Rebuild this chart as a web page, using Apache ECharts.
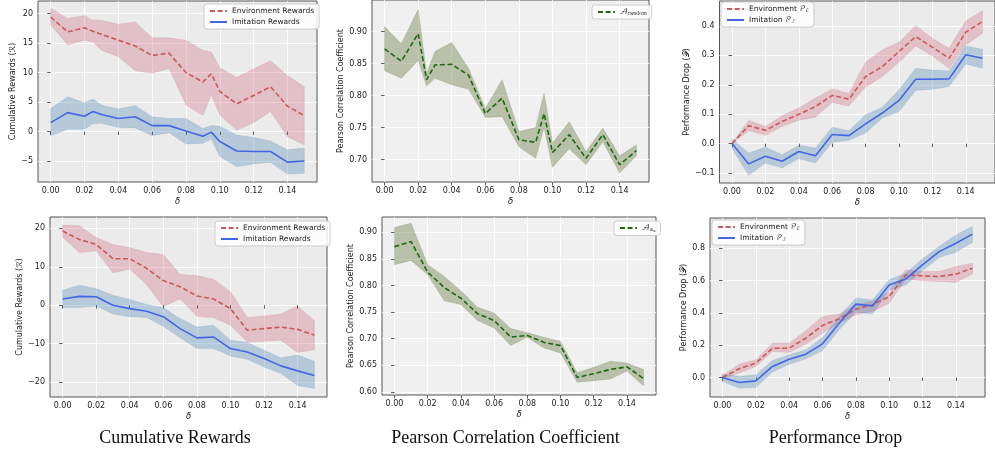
<!DOCTYPE html>
<html><head><meta charset="utf-8">
<script src="https://cdn.jsdelivr.net/npm/echarts@6/dist/echarts.min.js"></script>
<style>html,body{margin:0;padding:0;background:#fff}#c{width:995px;height:450px}</style>
</head><body><div id="c"></div>
<script>
// ---------------- data ----------------
const xsA = [0, 0.01, 0.02, 0.025, 0.03, 0.04, 0.05, 0.06, 0.07, 0.08, 0.09, 0.095, 0.10, 0.11, 0.12, 0.13, 0.14, 0.15];
const xsB = [0, 0.01, 0.02, 0.03, 0.04, 0.05, 0.06, 0.07, 0.08, 0.09, 0.10, 0.11, 0.12, 0.13, 0.14, 0.15];

// Panel 1: Cumulative rewards (top)
const envMean1 = [19.4, 16.9, 17.6, 17.0, 16.5, 15.5, 14.5, 12.9, 13.3, 10.0, 8.4, 9.8, 6.8, 4.7, 6.1, 7.6, 4.3, 2.7];
const envUp1   = [20.9, 19.2, 19.7, 18.9, 18.9, 18.2, 18.6, 15.9, 15.9, 15.5, 13.8, 13.5, 10.8, 9.2, 10.6, 12.0, 9.5, 7.6];
const envLo1   = [18.1, 14.7, 15.5, 15.2, 13.8, 12.7, 10.3, 9.9, 10.7, 4.5, 2.7, 6.3, 2.8, 0.2, 1.5, 3.4, -0.9, -2.3];
const imMean1  = [1.5, 3.2, 2.6, 3.4, 2.9, 2.2, 2.5, 1.0, 1.0, 0.1, -0.8, -0.1, -1.7, -3.3, -3.4, -3.4, -5.2, -5.0];
const imUp1    = [3.9, 5.9, 4.9, 5.5, 4.5, 3.8, 4.4, 2.5, 2.2, 2.2, 0.5, 1.0, 0.9, -0.6, -1.0, -1.6, -3.1, -2.8];
const imLo1    = [-0.7, 0.4, 0.4, 1.3, 1.4, 0.7, 0.6, -0.7, -0.2, -2.1, -2.0, -1.3, -4.2, -6.0, -5.5, -5.2, -7.2, -7.1];

// Panel 2: Pearson (top)
const pcMean2 = [0.873, 0.854, 0.897, 0.825, 0.848, 0.849, 0.832, 0.772, 0.796, 0.731, 0.727, 0.772, 0.711, 0.739, 0.702, 0.739, 0.692, 0.714];
const pcUp2   = [0.908, 0.881, 0.935, 0.835, 0.869, 0.883, 0.843, 0.780, 0.825, 0.744, 0.750, 0.804, 0.726, 0.759, 0.7125, 0.749, 0.706, 0.723];
const pcLo2   = [0.839, 0.827, 0.855, 0.815, 0.827, 0.817, 0.810, 0.766, 0.767, 0.720, 0.702, 0.750, 0.688, 0.717, 0.692, 0.728, 0.679, 0.706];

// Panel 3: Performance drop (top)
const envMean3 = [0, 0.061, 0.045, 0.075, 0.100, 0.126, 0.164, 0.151, 0.228, 0.262, 0.313, 0.364, 0.328, 0.290, 0.379, 0.415];
const envUp3   = [0, 0.079, 0.058, 0.095, 0.121, 0.155, 0.186, 0.170, 0.277, 0.318, 0.345, 0.401, 0.358, 0.324, 0.418, 0.452];
const envLo3   = [0, 0.044, 0.028, 0.058, 0.079, 0.090, 0.140, 0.128, 0.192, 0.228, 0.277, 0.332, 0.298, 0.256, 0.335, 0.375];
const imMean3  = [0, -0.069, -0.043, -0.060, -0.027, -0.041, 0.031, 0.027, 0.067, 0.104, 0.147, 0.219, 0.219, 0.220, 0.302, 0.290];
const imUp3    = [0.016, -0.032, -0.012, -0.038, -0.006, -0.015, 0.056, 0.044, 0.098, 0.124, 0.183, 0.256, 0.250, 0.247, 0.332, 0.321];
const imLo3    = [-0.017, -0.108, -0.066, -0.083, -0.051, -0.066, 0.004, 0.011, 0.036, 0.087, 0.109, 0.181, 0.185, 0.194, 0.271, 0.256];

// Panel 4: Cumulative rewards (bottom)
const envMean4 = [19.3, 17.1, 15.8, 12.1, 12.1, 9.6, 6.4, 4.8, 2.4, 1.6, -0.9, -6.5, -6.1, -5.7, -6.3, -7.8];
const envUp4   = [20.9, 20.7, 17.6, 15.8, 15.0, 13.7, 13.2, 8.0, 7.7, 6.7, 3.5, -3.2, -2.8, -2.3, -0.2, -4.1];
const envLo4   = [17.7, 13.7, 14.1, 8.4, 9.4, 5.4, -0.4, 1.7, -2.9, -3.3, -5.2, -9.6, -9.4, -9.1, -12.3, -11.6];
const imMean4  = [1.6, 2.3, 2.2, 0.0, -0.9, -1.6, -3.0, -6.1, -8.5, -8.3, -11.3, -12.2, -13.9, -15.8, -17.1, -18.3];
const imUp4    = [3.9, 5.2, 4.3, 2.6, 1.5, 0.2, -0.7, -3.5, -5.7, -5.2, -9.1, -9.7, -11.7, -13.7, -13.0, -14.6];
const imLo4    = [-0.6, -0.6, -0.2, -2.3, -3.0, -3.2, -5.5, -8.5, -11.3, -11.3, -13.2, -14.1, -16.1, -17.8, -20.9, -21.7];

// Panel 5: Pearson (bottom)
const pcMean5 = [0.873, 0.8825, 0.825, 0.796, 0.776, 0.747, 0.734, 0.703, 0.706, 0.693, 0.687, 0.627, 0.634, 0.642, 0.647, 0.625];
const pcUp5   = [0.909, 0.917, 0.839, 0.817, 0.790, 0.759, 0.748, 0.719, 0.711, 0.7025, 0.695, 0.636, 0.646, 0.6575, 0.654, 0.642];
const pcLo5   = [0.839, 0.847, 0.820, 0.771, 0.764, 0.734, 0.720, 0.687, 0.7025, 0.6825, 0.673, 0.618, 0.621, 0.624, 0.639, 0.611];

// Panel 6: Performance drop (bottom)
const envMean6 = [0, 0.054, 0.089, 0.181, 0.181, 0.243, 0.322, 0.363, 0.423, 0.449, 0.501, 0.635, 0.629, 0.625, 0.639, 0.676];
const envUp6   = [0.012, 0.082, 0.109, 0.212, 0.212, 0.289, 0.377, 0.392, 0.449, 0.474, 0.528, 0.666, 0.656, 0.656, 0.687, 0.707];
const envLo6   = [-0.008, 0.027, 0.068, 0.161, 0.155, 0.206, 0.274, 0.336, 0.388, 0.408, 0.460, 0.608, 0.598, 0.594, 0.588, 0.641];
const imMean6  = [0, -0.031, -0.021, 0.068, 0.113, 0.144, 0.208, 0.336, 0.454, 0.443, 0.573, 0.610, 0.697, 0.779, 0.831, 0.887];
const imUp6    = [0.021, 0.006, 0.016, 0.105, 0.140, 0.171, 0.247, 0.377, 0.491, 0.480, 0.604, 0.645, 0.734, 0.810, 0.882, 0.934];
const imLo6    = [-0.025, -0.066, -0.062, 0.033, 0.082, 0.115, 0.165, 0.295, 0.404, 0.392, 0.542, 0.573, 0.660, 0.742, 0.775, 0.837];

// ticks
const xTickVals = [0, 0.02, 0.04, 0.06, 0.08, 0.10, 0.12, 0.14];
const yTicks1 = [-5, 0, 5, 10, 15, 20];
const yTicks2 = [0.70, 0.75, 0.80, 0.85, 0.90];
const yTicks3 = [-0.1, 0, 0.1, 0.2, 0.3, 0.4];
const yTicks4 = [-20, -10, 0, 10, 20];
const yTicks5 = [0.60, 0.65, 0.70, 0.75, 0.80, 0.85, 0.90];
const yTicks6 = [0, 0.2, 0.4, 0.6, 0.8];

const captions = ['Cumulative Rewards', 'Pearson Correlation Coefficient', 'Performance Drop'];

// ---------------- style ----------------
const FONT = 'DejaVu Sans';
const MATHF = '"DejaVu Math TeX Gyre","DejaVu Serif","Liberation Serif",serif';
const RED = '#cd5858', BLUE = '#4266e6', GREEN = '#1b6a0c';
const RED_BAND = 'rgba(195,65,95,0.25)', BLUE_BAND = 'rgba(70,130,180,0.32)', GREEN_BAND = 'rgba(85,107,47,0.36)';
const DASH = [5, 2.6];

function fmt(v, d) { return v.toFixed(d).replace('-', '\u2212'); }

const panels = [
  {grid:{left:38, top:1, width:279, height:181}, bg:'#EBEBEB', yMin:-8.57, yMax:22.15, yTicks:yTicks1, yDec:0,
   yName:'Cumulative Rewards (ℛ)', yGap:20, xs:xsA,
   bands:[[envLo1, envUp1, RED_BAND],[imLo1, imUp1, BLUE_BAND]],
   lines:[['Environment Rewards', envMean1, RED, DASH],['Imitation Rewards', imMean1, BLUE, 'solid']],
   legend:{left:204, top:4}},
  {grid:{left:372, top:0, width:277, height:182}, bg:'#F0F0F0', yMin:0.665, yMax:0.9495, yTicks:yTicks2, yDec:2,
   yName:'Pearson Correlation Coefficient', yGap:27, xs:xsA,
   bands:[[pcLo2, pcUp2, GREEN_BAND]],
   lines:[['A_random', pcMean2, GREEN, DASH]],
   legend:{left:592, top:5}},
  {grid:{left:719.5, top:1, width:279.5, height:182}, bg:'#EBEBEB', yMin:-0.134, yMax:0.485, yTicks:yTicks3, yDec:1,
   yName:'Performance Drop (𝒫)', yGap:28, xs:xsB,
   bands:[[envLo3, envUp3, RED_BAND],[imLo3, imUp3, BLUE_BAND]],
   lines:[['Environment P_E top', envMean3, RED, DASH],['Imitation P_I top', imMean3, BLUE, 'solid']],
   legend:{left:721, top:2}},
  {grid:{left:50, top:217, width:277, height:180}, bg:'#EBEBEB', yMin:-23.9, yMax:22.95, yTicks:yTicks4, yDec:0,
   yName:'Cumulative Rewards (ℛ)', yGap:26, xs:xsB,
   bands:[[envLo4, envUp4, RED_BAND],[imLo4, imUp4, BLUE_BAND]],
   lines:[['Environment Rewards ', envMean4, RED, DASH],['Imitation Rewards ', imMean4, BLUE, 'solid']],
   legend:{left:215, top:221}},
  {grid:{left:382, top:217, width:274, height:178}, bg:'#F0F0F0', yMin:0.594, yMax:0.9287, yTicks:yTicks5, yDec:2,
   yName:'Pearson Correlation Coefficient', yGap:27, xs:xsB,
   bands:[[pcLo5, pcUp5, GREEN_BAND]],
   lines:[['A_au', pcMean5, GREEN, DASH]],
   legend:{left:614, top:221}},
  {grid:{left:710, top:218, width:275, height:179}, bg:'#EBEBEB', yMin:-0.121, yMax:0.987, yTicks:yTicks6, yDec:1,
   yName:'Performance Drop (𝒫)', yGap:21, xs:xsB,
   bands:[[envLo6, envUp6, RED_BAND],[imLo6, imUp6, BLUE_BAND]],
   lines:[['Environment P_E bottom', envMean6, RED, DASH],['Imitation P_I bottom', imMean6, BLUE, 'solid']],
   legend:{left:712, top:220}}
];

const legendLabel = {
  'Environment Rewards':'Environment Rewards',
  'Imitation Rewards':'Imitation Rewards',
  'Environment Rewards ':'Environment Rewards',
  'Imitation Rewards ':'Imitation Rewards',
  'A_random':'{m|𝒜}{s|random}',
  'A_au':'{m|𝒜}{s|a}{ss|u}',
  'Environment P_E top':'Environment {m|𝒫}{s|ℰ}',
  'Imitation P_I top':'Imitation {m|𝒫}{s|ℐ}',
  'Environment P_E bottom':'Environment {m|𝒫}{s|ℰ}',
  'Imitation P_I bottom':'Imitation {m|𝒫}{s|ℐ}'
};

function bandSeries(gi, xs, lo, up, col) {
  return {
    type:'custom', xAxisIndex:gi, yAxisIndex:gi, silent:true, clip:true, z:1, animation:false,
    data:xs.map((x, i) => [x, lo[i], up[i]]),
    encode:{x:0, y:[1, 2]},
    renderItem:(params, api) => {
      if (params.dataIndex !== 0) return null;
      const pts = [];
      for (let i = 0; i < xs.length; i++) pts.push(api.coord([xs[i], up[i]]));
      for (let i = xs.length - 1; i >= 0; i--) pts.push(api.coord([xs[i], lo[i]]));
      return {type:'polygon', shape:{points:pts}, style:{fill:col, stroke:col, lineWidth:0.5}};
    }
  };
}

const grids = [], xAxes = [], yAxes = [], series = [], legends = [];
panels.forEach((p, gi) => {
  grids.push(Object.assign({show:true, backgroundColor:p.bg, borderColor:'#555', borderWidth:1, containLabel:false}, p.grid));
  xAxes.push({
    gridIndex:gi, type:'value', min:-0.0075, max:0.1575,
    name:'δ', nameLocation:'middle', nameGap:15,
    nameTextStyle:{fontFamily:FONT, fontStyle:'italic', fontSize:8.5, color:'#222'},
    axisLine:{show:false},
    axisTick:{show:true, length:3.5, inside:false, customValues:xTickVals, lineStyle:{color:'#333', width:0.8}},
    axisLabel:{customValues:xTickVals, formatter:v => fmt(v, 2), fontFamily:FONT, fontSize:8, color:'#222', margin:5},
    splitLine:{show:true, lineStyle:{color:'#ffffff', width:0.9}}
  });
  yAxes.push({
    gridIndex:gi, type:'value', min:p.yMin, max:p.yMax,
    name:p.yName, nameLocation:'middle', nameGap:p.yGap,
    nameTextStyle:{fontFamily:FONT, fontSize:8, color:'#222'},
    axisLine:{show:false},
    axisTick:{show:true, length:3.5, inside:false, customValues:p.yTicks, lineStyle:{color:'#333', width:0.8}},
    axisLabel:{customValues:p.yTicks, formatter:v => fmt(v, p.yDec), fontFamily:FONT, fontSize:8, color:'#222', margin:5},
    splitLine:{show:true, lineStyle:{color:'#ffffff', width:0.9}}
  });
  p.bands.forEach(b => series.push(bandSeries(gi, p.xs, b[0], b[1], b[2])));
  p.lines.forEach(l => {
    const [name, vals, col, dash] = l;
    series.push({type:'line', name, xAxisIndex:gi, yAxisIndex:gi, symbol:'none', animation:false, z:3,
      lineStyle:{color:col, width:1.6, type:dash}, itemStyle:{color:col},
      data:p.xs.map((x, i) => [x, vals[i]])});
  });
  legends.push({
    left:p.legend.left, top:p.legend.top, orient:'vertical', selectedMode:false,
    data:p.lines.map(l => l[0]),
    itemWidth:17, itemHeight:7, itemGap:3, padding:[3, 5, 3, 5],
    itemStyle:{opacity:0},
    backgroundColor:'rgba(255,255,255,0.85)', borderColor:'#cccccc', borderWidth:1, borderRadius:3,
    formatter:n => legendLabel[n],
    textStyle:{fontFamily:FONT, fontSize:7.5, color:'#222',
      rich:{
        m:{fontFamily:MATHF, fontSize:7.5, color:'#222'},
        s:{fontFamily:MATHF, fontSize:4.8, color:'#222', padding:[3, 0, 0, 0]},
        ss:{fontFamily:MATHF, fontSize:4, color:'#222', padding:[5, 0, 0, 0]}
      }}
  });
});

const graphic = captions.map((t, i) => ({
  type:'text', x:[175, 505.5, 835.5][i], y:438, silent:true,
  style:{text:t, font:'18px "Liberation Serif", "Times New Roman", serif', fill:'#111', align:'center', verticalAlign:'middle'}
}));

const chart = echarts.init(document.getElementById('c'), null, {renderer:'canvas'});
chart.setOption({
  animation:false,
  backgroundColor:'#ffffff',
  grid:grids, xAxis:xAxes, yAxis:yAxes, series, legend:legends, graphic
});
</script></body></html>
